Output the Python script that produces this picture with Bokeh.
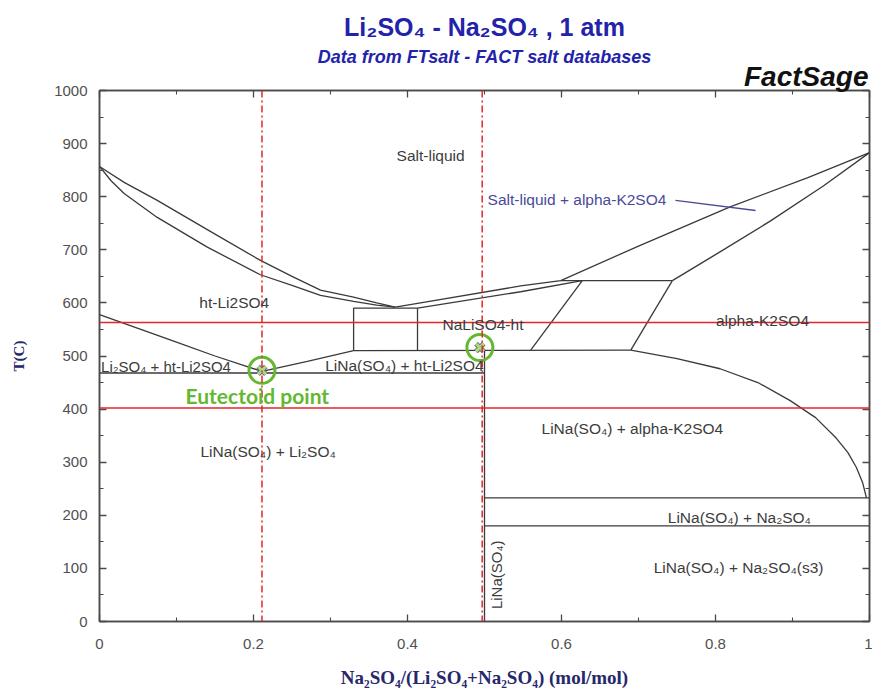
from bokeh.plotting import figure
from bokeh.models import Range1d, LinearAxis, FixedTicker, Label, Span, Title
from bokeh.embed import file_html
from bokeh.resources import INLINE

# ---------------- data ----------------
# x = Na2SO4/(Li2SO4+Na2SO4) (mol/mol), T in degrees C
x_ticks = [0.0, 0.2, 0.4, 0.6, 0.8, 1.0]
x_tick_labels = ["0", "0.2", "0.4", "0.6", "0.8", "1"]
x_minor_ticks = [0.1, 0.3, 0.5, 0.7, 0.9]
T_ticks = [0, 100, 200, 300, 400, 500, 600, 700, 800, 900, 1000]
T_minor_ticks = [50, 150, 250, 350, 450, 550, 650, 750, 850, 950]

liquidus_left_x = [0.0, 0.032, 0.075, 0.14, 0.209, 0.25, 0.287, 0.33, 0.36, 0.384]
liquidus_left_T = [857, 827, 793, 738, 680, 650, 624, 611, 600, 592]
solidus_left_x = [0.0, 0.015, 0.032, 0.075, 0.14, 0.209, 0.25, 0.287, 0.33, 0.36, 0.384]
solidus_left_T = [857, 830, 806, 761, 705, 653, 633, 614, 603, 596, 592]

liquidus_right_x = [0.384, 0.417, 0.547, 0.599, 0.70, 0.819, 0.92, 1.0]
liquidus_right_T = [592, 600, 632, 642, 707, 781, 836, 883]
solidus_right_x = [0.413, 0.547, 0.627]
solidus_right_T = [590, 621, 642]

peritectic_x = [0.599, 0.744]
peritectic_T = [642, 642]
alpha_solidus_x = [0.744, 0.80, 0.871, 0.94, 1.0]
alpha_solidus_T = [642, 691, 754, 820, 883]

slant_a_x = [0.627, 0.560]
slant_a_T = [642, 511]
slant_b_x = [0.744, 0.690]
slant_b_T = [642, 511]

box_x = [0.330, 0.330, 0.413, 0.413]
box_T = [510, 590, 590, 510]
line_510_x = [0.330, 0.690]
line_510_T = [510, 511]

li2so4_solvus_x = [0.0, 0.05, 0.10, 0.15, 0.211]
li2so4_solvus_T = [578, 552, 526, 500, 471]
eutectoid_branch_x = [0.211, 0.270, 0.330]
eutectoid_branch_T = [471, 490, 510]
eutectoid_line_x = [0.0, 0.5]
eutectoid_line_T = [468, 468]

compound_x = [0.5, 0.5]
compound_T = [0, 510]

solvus_right_x = [0.690, 0.75, 0.806, 0.855, 0.897, 0.93, 0.957, 0.972, 0.983, 0.991, 0.996]
solvus_right_T = [511, 495, 476, 450, 416, 384, 345, 318, 290, 262, 233]

na2so4_upper_x = [0.5, 1.0]
na2so4_upper_T = [233, 233]
na2so4_lower_x = [0.5, 1.0]
na2so4_lower_T = [180, 180]

leader_x = [0.748, 0.852]
leader_T = [793, 774]

red_hlines_T = [563, 402]
red_vlines_x = [0.211, 0.497]

marker_x = [0.211, 0.494]
marker_T = [473, 516]

region_labels = ["Salt-liquid", "ht-Li2SO4", "NaLiSO4-ht", "alpha-K2SO4",
                 "LiNa(SO₄) + ht-Li2SO4", "LiNa(SO₄) + Li₂SO₄",
                 "LiNa(SO₄) + alpha-K2SO4", "LiNa(SO₄) + Na₂SO₄",
                 "LiNa(SO₄) + Na₂SO₄(s3)"]
region_label_x = [0.43, 0.175, 0.498, 0.861, 0.396, 0.219, 0.692, 0.831, 0.830]
region_label_T = [877, 601, 560, 567, 483, 320, 363, 196, 102]

title_text = "Li₂SO₄ - Na₂SO₄ , 1 atm"
subtitle_text = "Data from FTsalt - FACT salt databases"
brand_text = "FactSage"

AXIS_GRAY = "#4a4a4a"
NAVY = "#27276b"
TITLE_BLUE = "#2222aa"
LABEL_SIZE = "15.5px"

# ---------------- figure ----------------
p = figure(width=872, height=691, output_backend="svg", toolbar_location=None,
           x_range=Range1d(0, 1), y_range=Range1d(0, 1000),
           x_axis_location=None, y_axis_location=None,
           min_border_left=99, min_border_right=3, min_border_top=0, min_border_bottom=70,
           background_fill_color="white", border_fill_color="white")
p.grid.visible = False
p.outline_line_color = AXIS_GRAY
p.outline_line_width = 1.5

xt = FixedTicker(ticks=x_ticks, minor_ticks=x_minor_ticks)
yt = FixedTicker(ticks=T_ticks, minor_ticks=T_minor_ticks)

xb = LinearAxis(ticker=xt)
yl = LinearAxis(ticker=yt)
top_ax = LinearAxis(ticker=xt)
right_ax = LinearAxis(ticker=yt)
p.add_layout(xb, "below")
p.add_layout(yl, "left")
p.add_layout(top_ax, "above")
p.add_layout(right_ax, "right")

for ax in [xb, yl, top_ax, right_ax]:
    ax.axis_line_color = AXIS_GRAY
    ax.axis_line_width = 1.5
    ax.major_tick_in = 7
    ax.major_tick_out = 0
    ax.minor_tick_in = 4
    ax.minor_tick_out = 0
    ax.major_tick_line_color = AXIS_GRAY
    ax.minor_tick_line_color = AXIS_GRAY
    ax.major_tick_line_width = 1.3
    ax.minor_tick_line_width = 1.1
    ax.major_label_text_font = "Liberation Sans"
    ax.major_label_text_font_size = "15px"
    ax.major_label_text_color = "#505050"

top_ax.major_label_overrides = {v: "" for v in x_ticks}
right_ax.major_label_overrides = {v: "" for v in T_ticks}
for ax in [top_ax, right_ax]:
    ax.major_label_text_font_size = "1px"
    ax.major_label_standoff = 0
    ax.axis_label_standoff = 0
    ax.major_label_text_color = None

xb.major_label_overrides = dict(zip(x_ticks, x_tick_labels))
xb.major_label_standoff = 17
xb.axis_label = "Na₂SO₄/(Li₂SO₄+Na₂SO₄) (mol/mol)"
xb.axis_label_text_font = "Liberation Serif"
xb.axis_label_text_font_style = "bold"
xb.axis_label_text_font_size = "19px"
xb.axis_label_text_color = NAVY
xb.axis_label_standoff = 15

yl.major_label_standoff = 12
yl.axis_label = "T(C)"
yl.axis_label_text_font = "Liberation Serif"
yl.axis_label_text_font_style = "bold"
yl.axis_label_text_font_size = "15px"
yl.axis_label_text_color = NAVY
yl.axis_label_standoff = 24

# headings stacked above the frame (nearest first)
p.add_layout(Title(text=brand_text, align="right", offset=1, standoff=-3,
                   text_font="Liberation Sans", text_font_style="bold italic",
                   text_font_size="28px", text_color="#111111"), "above")
p.add_layout(Title(text=subtitle_text, align="center", standoff=-13,
                   text_font="Liberation Sans", text_font_style="bold italic",
                   text_font_size="18px", text_color=TITLE_BLUE), "above")
p.add_layout(Title(text=title_text, align="center", standoff=21,
                   text_font="Liberation Sans", text_font_style="bold",
                   text_font_size="25px", text_color=TITLE_BLUE), "above")

# ---------------- phase boundaries ----------------
bx = [liquidus_left_x, solidus_left_x, liquidus_right_x, solidus_right_x, peritectic_x,
      alpha_solidus_x, slant_a_x, slant_b_x, box_x, line_510_x, li2so4_solvus_x,
      eutectoid_branch_x, eutectoid_line_x, compound_x, solvus_right_x,
      na2so4_upper_x, na2so4_lower_x]
bT = [liquidus_left_T, solidus_left_T, liquidus_right_T, solidus_right_T, peritectic_T,
      alpha_solidus_T, slant_a_T, slant_b_T, box_T, line_510_T, li2so4_solvus_T,
      eutectoid_branch_T, eutectoid_line_T, compound_T, solvus_right_T,
      na2so4_upper_T, na2so4_lower_T]
p.multi_line(xs=bx, ys=bT, line_color="#3a3a3a", line_width=1.3)
p.line(leader_x, leader_T, line_color="#4a4a99", line_width=1.3)

# red guide lines
for t in red_hlines_T:
    p.add_layout(Span(location=t, dimension="width", line_color="#e3262b", line_width=1.5))
for xv in red_vlines_x:
    p.add_layout(Span(location=xv, dimension="height", line_color="#e3262b",
                      line_width=1.5, line_dash="7 3 2 3"))

# region labels
for txt, lx, lT in zip(region_labels, region_label_x, region_label_T):
    p.add_layout(Label(x=lx, y=lT, text=txt, text_align="center", text_baseline="middle",
                       text_font="Liberation Sans", text_font_size=LABEL_SIZE,
                       text_color="#3c3c3c"))
p.add_layout(Label(x=0.002, y=480, text="Li₂SO₄ + ht-Li2SO4", text_align="left",
                   text_baseline="middle", text_font="Liberation Sans",
                   text_font_size="15px", text_color="#3c3c3c"))
p.add_layout(Label(x=0.516, y=88, text="LiNa(SO₄)", angle=90, angle_units="deg",
                   text_align="center", text_baseline="middle", text_font="Liberation Sans",
                   text_font_size="15px", text_color="#3c3c3c"))
p.add_layout(Label(x=0.504, y=795, text="Salt-liquid + alpha-K2SO4", text_align="left",
                   text_baseline="middle", text_font="Liberation Sans",
                   text_font_size=LABEL_SIZE, text_color="#4a4a99"))

# eutectoid markers
p.scatter(marker_x, marker_T, marker="circle", size=26, fill_color=None,
          line_color="#63b830", line_width=3)
p.scatter(marker_x, marker_T, marker="x", size=11, line_color="#707070", line_width=5)
p.scatter(marker_x, marker_T, marker="x", size=11, line_color="#a8d982", line_width=3)
p.add_layout(Label(x=0.205, y=426, text="Eutectoid point", text_align="center",
                   text_baseline="middle", text_font="Lato", text_font_style="bold",
                   text_font_size="21px", text_color="#63b830"))

open("out.html", "w").write(file_html(p, INLINE))
